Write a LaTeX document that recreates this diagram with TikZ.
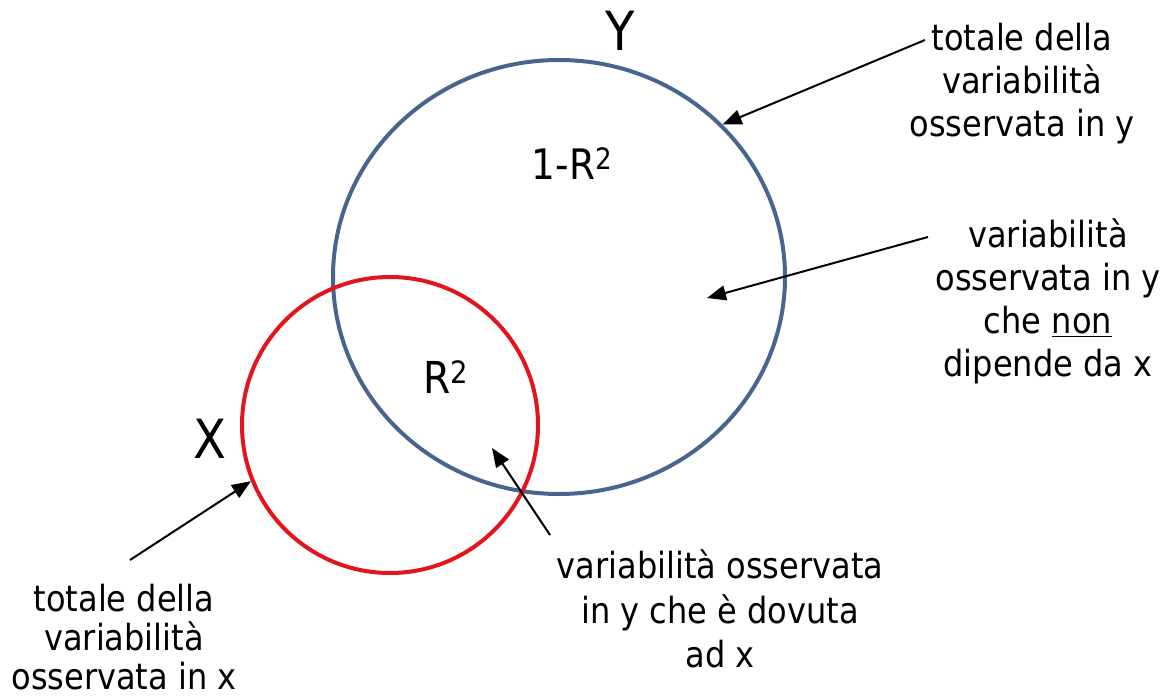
\documentclass[tikz,border=0pt]{standalone}
\usepackage{fontspec}
\setmainfont{DejaVu Sans}[FakeStretch=0.89]
\usepackage{tikz}
\usetikzlibrary{arrows.meta,shapes.geometric}
\definecolor{VennBlue}{HTML}{46658F}
\definecolor{VennRed}{HTML}{E3141C}

\begin{document}
\begin{tikzpicture}[x=1pt,y=-1pt,>={Triangle[length=19pt,width=15pt]},
    lbl/.style={align=center,inner sep=0pt,anchor=north,
                font=\fontsize{36}{43}\selectfont},
    big/.style={font=\fontsize{54}{60}\selectfont}]
  \useasboundingbox (0,0) rectangle (1167,698);
  \node[draw=VennBlue,line width=4pt,ellipse,inner sep=0pt,
        minimum width=452pt,minimum height=434pt] (ycirc) at (559,277) {};
  \node[draw=VennRed,line width=4pt,circle,inner sep=0pt,
        minimum size=296pt] (xcirc) at (390,425) {};
  \node[big] (ylab) at (620,31) {Y};
  \node[big] (xlab) at (210,439) {X};
  \node[anchor=base,font=\fontsize{42}{48}\selectfont] (rest) at (572,179)
        {1-R\textsuperscript{2}};
  \node[anchor=base,font=\fontsize{44}{50}\selectfont] (share) at (446,393)
        {R\textsuperscript{2}};
  \node[lbl] (ytot) at (1022,23) {totale della\\variabilità\\osservata in y};
  \node[lbl] (yrest) at (1048,219)
        {variabilità\\osservata in y\\che \underline{non}\\dipende da x};
  \node[lbl,font=\fontsize{36}{44.5}\selectfont] (yshare) at (720,550)
        {variabilità osservata\\in y che è dovuta\\ad x};
  \node[lbl,font=\fontsize{36}{39}\selectfont] (xtot) at (124,584)
        {totale della\\variabilità\\osservata in x};
  \coordinate (ytotstart) at (925,40);
  \coordinate (yreststart) at (928,237);
  \coordinate (restpt) at (707,298);
  \coordinate (sharestart) at (550,535);
  \coordinate (sharept) at (492,448);
  \coordinate (xtotstart) at (130,560);
  \draw[->,line width=2pt] (ytotstart) -- (ycirc.43);
  \draw[->,line width=2pt] (yreststart) -- (restpt);
  \draw[->,line width=2pt] (sharestart) -- (sharept);
  \draw[->,line width=2pt] (xtotstart) -- (xcirc.202);
\end{tikzpicture}
\end{document}
